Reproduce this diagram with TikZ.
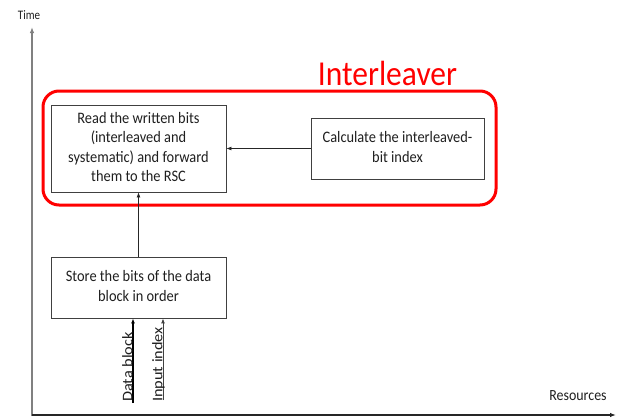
\documentclass[tikz,border=0pt]{standalone}
\usepackage{fontspec}
\setmainfont{Carlito}
\usepackage{graphicx}
\usetikzlibrary{arrows.meta}
\newcommand{\sqz}[1]{\scalebox{0.9}[1]{\begin{tabular}{@{}c@{}}#1\end{tabular}}}
\begin{document}
\begin{tikzpicture}[x=1pt,y=-1pt,
  box/.style={draw=black!75, line width=0.8pt, inner sep=0pt, text=black!88,
    font=\fontsize{16}{19.5}\selectfont},
  flow/.style={draw=black!85, line width=0.8pt, -{Latex[length=5pt,width=4pt]}},
  inarrow/.style={draw=black, -{Latex[length=5pt,width=4pt]}},
  axis/.style={line width=1.3pt, -{Latex[length=6pt,width=4.5pt]}},
  axlabel/.style={anchor=base, inner sep=0pt, text=black!88},
  vlabel/.style={rotate=90, anchor=base, inner sep=0pt, text=black!88,
    font=\fontsize{16.3}{19}\selectfont}]
\useasboundingbox (0,0) rectangle (633,418);

% axes
\coordinate (origin) at (32,416);
\coordinate (ttop) at (32,27);
\coordinate (rend) at (616,415);
\draw[axis, draw=black!50] (origin) -- (ttop);
\draw[axis, draw=black!85] (origin |- rend) -- (rend);
\node[axlabel, font=\fontsize{13}{15}\selectfont] (timelbl) at (29,19) {\scalebox{0.85}[1]{Time}};
\node[axlabel, font=\fontsize{15.5}{18}\selectfont] (reslbl) at (578,400) {\scalebox{0.9}[1]{Resources}};

% interleaver frame
\node[draw=red, line width=3pt, rounded corners=16pt, minimum width=453pt,
  minimum height=114pt, inner sep=0pt] (frame) at (269.5,148) {};
\node[anchor=base, inner sep=0pt, text=red, font=\fontsize{35}{40}\selectfont]
  (title) at (387.5,85) {\scalebox{0.9}[1]{Interleaver}};

% boxes
\node[box, minimum width=175pt, minimum height=87pt] (read) at (138.5,148.5)
  {\sqz{Read the written bits\\(interleaved and\\systematic) and forward\\them to the RSC}};
\node[box, minimum width=173pt, minimum height=61pt] (calc) at (397.5,148.5)
  {\sqz{Calculate the interleaved-\\bit index}};
\node[box, minimum width=175pt, minimum height=61pt] (store) at (138.5,287.5)
  {\sqz{Store the bits of the data\\block in order}};

% connectors
\draw[flow] (calc.west) -- (read.east);
\draw[flow] (store.north) -- (read.south);

% inputs
\coordinate (dbstart) at (133,403);
\coordinate (iistart) at (163,400);
\draw[inarrow, line width=1.3pt] (dbstart) -- (dbstart |- store.south);
\draw[inarrow, line width=0.9pt, draw=black!75] (iistart) -- (iistart |- store.south);
\node[vlabel] (dblbl) at (132.3,367) {\scalebox{1}[0.9]{Data block}};
\node[vlabel] (iilbl) at (162.3,364.5) {\scalebox{1}[0.9]{Input index}};
\end{tikzpicture}
\end{document}
